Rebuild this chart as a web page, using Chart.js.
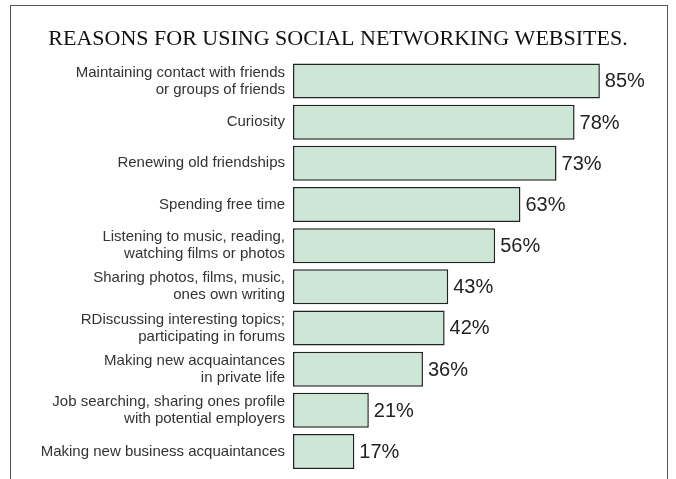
<!DOCTYPE html>
<html>
<head>
<meta charset="utf-8">
<script src="https://cdn.jsdelivr.net/npm/chart.js@4"></script>
<style>
  html, body { margin: 0; padding: 0; background: #fff; overflow: hidden; }
  #wrap { position: relative; width: 676px; height: 479px; overflow: hidden; }
  #frame { position: absolute; left: 10px; top: 5px; width: 656px; height: 480px;
           border: 1.5px solid #555; border-bottom: none; }
  #chartcontainer { position: absolute; left: 0; top: 0; }
</style>
</head>
<body>
<div id="wrap">
  <div id="frame"></div>
  <canvas id="chartcontainer" width="676" height="489"></canvas>
</div>
<script>
var reasons = [
  ["Maintaining contact with friends", "or groups of friends"],
  "Curiosity",
  "Renewing old friendships",
  "Spending free time",
  ["Listening to music, reading,", "watching films or photos"],
  ["Sharing photos, films, music,", "ones own writing"],
  ["RDiscussing interesting topics;", "participating in forums"],
  ["Making new acquaintances", "in private life"],
  ["Job searching, sharing ones profile", "with potential employers"],
  "Making new business acquaintances"
];
var shares = [85, 78, 73, 63, 56, 43, 42, 36, 21, 17];
var chartTitle = "REASONS FOR USING SOCIAL NETWORKING WEBSITES.";

// etiquettes de valeur a droite des barres
var valueLabels = {
  id: "valueLabels",
  afterDatasetsDraw: function(chart) {
    var ctx = chart.ctx;
    var meta = chart.getDatasetMeta(0);
    ctx.save();
    ctx.font = "20px 'Liberation Sans', Arial, sans-serif";
    ctx.fillStyle = "#222";
    ctx.textAlign = "left";
    ctx.textBaseline = "middle";
    meta.data.forEach(function(bar, i) {
      ctx.fillText(shares[i] + "%", bar.x + 5, bar.y + 1);
    });
    ctx.restore();
  }
};

var ctx = document.getElementById("chartcontainer").getContext("2d");
var chart = new Chart(ctx, {
  type: "bar",
  data: {
    labels: reasons,
    datasets: [{
      data: shares,
      backgroundColor: "#cde7d6",
      borderColor: "#222",
      borderWidth: 1.5,
      borderSkipped: false,
      categoryPercentage: 1,
      barPercentage: 0.85
    }]
  },
  options: {
    indexAxis: "y",
    responsive: false,
    animation: false,
    layout: { padding: { left: 22, right: 22, top: 0, bottom: 0 } },
    plugins: {
      legend: { display: false },
      tooltip: { enabled: false },
      title: {
        display: true,
        text: chartTitle,
        color: "#111",
        font: { family: "'Liberation Serif', 'Times New Roman', serif", size: 22, weight: "normal", lineHeight: 1.2 },
        padding: { top: 26, bottom: 8 }
      }
    },
    scales: {
      x: {
        display: false,
        min: 0,
        max: 100
      },
      y: {
        grid: { display: false },
        border: { display: false },
        ticks: {
          color: "#333",
          padding: 0,
          font: { family: "'Liberation Sans', Arial, sans-serif", size: 15, lineHeight: 1.13 }
        },
        afterFit: function(scale) { scale.width = 271; }
      }
    }
  },
  plugins: [valueLabels]
});
</script>
</body>
</html>
